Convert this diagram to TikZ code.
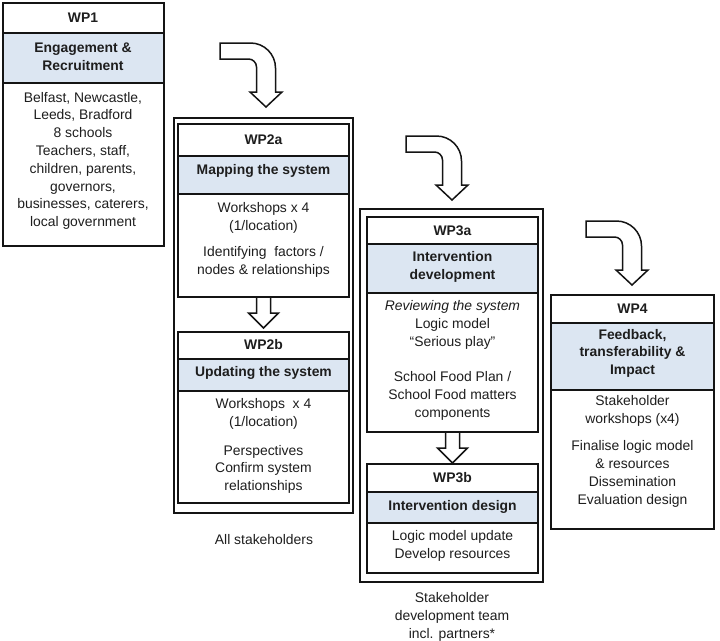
\documentclass[tikz,border=0pt]{standalone}
\usepackage{fontspec}
\setmainfont{Liberation Sans}
\usetikzlibrary{calc}
\definecolor{bandblue}{RGB}{220,230,242}
\definecolor{linec}{RGB}{20,20,20}
\definecolor{textc}{RGB}{30,30,30}
\newcommand{\fsz}{\fontsize{13.9}{17.8}\selectfont}
\begin{document}
\begin{tikzpicture}[x=1pt,y=-1pt,
  cell/.style={draw=linec, line width=1.5pt, fill=white, anchor=north west, inner sep=0pt, outer sep=0pt},
  band/.style={cell, fill=bandblue},
  frame/.style={draw=linec, line width=1.5pt, fill=white, anchor=north west, inner sep=0pt, outer sep=0pt},
  txt/.style={font=\fsz, align=center, inner sep=0pt, text=textc, execute at begin node=\strut, execute at end node=\strut},
  btxt/.style={txt, font=\fsz\bfseries},
  blockarrow/.style={draw=linec, line width=1.5pt, fill=white, line join=miter},
  bentarrow/.pic={\draw[blockarrow] (-46,-64) -- (-15.5,-64) .. controls (-1.7,-64) and (9.5,-52.8) .. (9.5,-39) -- (9.5,-15) -- (16,-15) -- (0,0) -- (-16,-15) -- (-9.5,-15) -- (-9.5,-40) .. controls (-9.5,-44.4) and (-13.1,-48) .. (-17.5,-48) -- (-46,-48) -- cycle;},
  droparrow/.pic={\draw[blockarrow] (-7,0) -- (7,0) -- (7,16) -- (15,16) -- (0,31) -- (-15,16) -- (-7,16) -- cycle;}
]
\useasboundingbox[fill=white] (0,0) rectangle (720,640);

% outer frames
\node[frame, minimum width=179, minimum height=395] (wp2) at (174,118) {};
\node[frame, minimum width=183, minimum height=373] (wp3) at (360,209) {};

% WP1
\node[cell, minimum width=161, minimum height=30] (wp1h) at (3,3) {};
\node[band, minimum width=161, minimum height=50] (wp1b) at (3,33) {};
\node[cell, minimum width=161, minimum height=163] (wp1c) at (3,83) {};

% WP2a
\node[cell, minimum width=171, minimum height=32] (wp2ah) at (178,124) {};
\node[band, minimum width=171, minimum height=38] (wp2ab) at (178,156) {};
\node[cell, minimum width=171, minimum height=103] (wp2ac) at (178,194) {};
% WP2b
\node[cell, minimum width=171, minimum height=27] (wp2bh) at (178,332) {};
\node[band, minimum width=171, minimum height=32] (wp2bb) at (178,359) {};
\node[cell, minimum width=171, minimum height=112] (wp2bc) at (178,391) {};

% WP3a
\node[cell, minimum width=171, minimum height=27] (wp3ah) at (367,217) {};
\node[band, minimum width=171, minimum height=49] (wp3ab) at (367,244) {};
\node[cell, minimum width=171, minimum height=139] (wp3ac) at (367,293) {};
% WP3b
\node[cell, minimum width=171, minimum height=28] (wp3bh) at (367,464) {};
\node[band, minimum width=171, minimum height=31] (wp3bb) at (367,492) {};
\node[cell, minimum width=171, minimum height=50] (wp3bc) at (367,523) {};

% WP4
\node[cell, minimum width=163, minimum height=28] (wp4h) at (551,295) {};
\node[band, minimum width=163, minimum height=67] (wp4b) at (551,323) {};
\node[cell, minimum width=163, minimum height=139] (wp4c) at (551,390) {};

% arrows
\pic at (266,107) {bentarrow};
\pic at (452,200) {bentarrow};
\pic at (632,285) {bentarrow};
\pic at (wp2ac.south) {droparrow};
\pic at (wp3ac.south) {droparrow};

% texts WP1
\node[btxt] (t1h) at (83,19) {WP1};
\node[btxt] (t1b) at (83,59.5) {Engagement \&\\Recruitment};
\node[txt] (t1c) at (83,162) {Belfast, Newcastle,\\Leeds, Bradford\\8 schools\\Teachers, staff,\\children, parents,\\governors,\\businesses, caterers,\\local government};

% texts WP2a
\node[btxt] (t2ah) at (263.5,141) {WP2a};
\node[btxt] (t2ab) at (263.5,171) {Mapping the system};
\node[txt] (t2ac1) at (263.5,219.5) {Workshops x 4\\(1/location)};
\node[txt] (t2ac2) at (263.5,263) {Identifying~ factors /\\nodes \& relationships};
% texts WP2b
\node[btxt] (t2bh) at (263.5,346) {WP2b};
\node[btxt] (t2bb) at (263.5,373) {Updating the system};
\node[txt] (t2bc1) at (263.5,415) {Workshops~ x 4\\(1/location)};
\node[txt] (t2bc2) at (263.5,470.5) {Perspectives\\Confirm system\\relationships};
\node[txt] (cap2) at (264,541) {All stakeholders};

% texts WP3a
\node[btxt] (t3ah) at (452.5,231.5) {WP3a};
\node[btxt] (t3ab) at (452.5,268) {Intervention\\development};
\node[txt] (t3ac1) at (452.5,326) {\textit{Reviewing the system}\\Logic model\\“Serious play”};
\node[txt] (t3ac2) at (452.5,397) {School Food Plan /\\School Food matters\\components};
% texts WP3b
\node[btxt] (t3bh) at (452.5,479) {WP3b};
\node[btxt] (t3bb) at (452.5,507) {Intervention design};
\node[txt] (t3bc) at (452.5,547) {Logic model update\\Develop resources};
\node[txt] (cap3) at (452,618) {Stakeholder\\development team\\incl. partners*};

% texts WP4
\node[btxt] (t4h) at (632.5,310) {WP4};
\node[btxt] (t4b) at (632.5,354.5) {Feedback,\\transferability \&\\Impact};
\node[txt] (t4c1) at (632.5,412.5) {Stakeholder\\workshops (x4)};
\node[txt] (t4c2) at (632.5,475) {Finalise logic model\\\& resources\\Dissemination\\Evaluation design};
\end{tikzpicture}
\end{document}
